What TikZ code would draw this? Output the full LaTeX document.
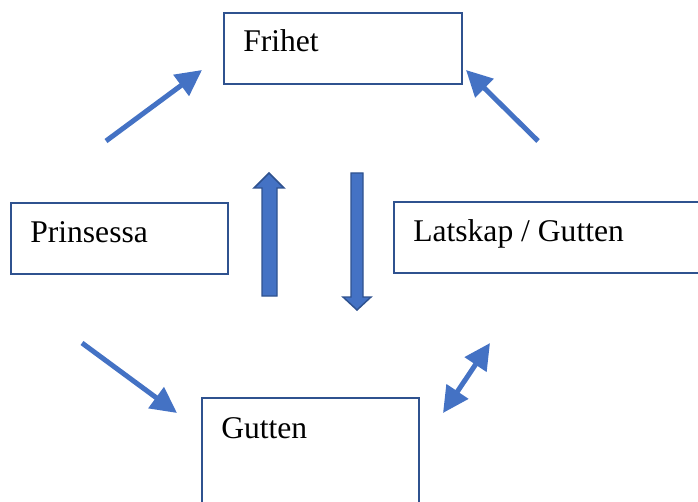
\documentclass[tikz,border=0pt]{standalone}
\usepackage{fontspec}
\setmainfont{Liberation Serif}
\usetikzlibrary{arrows.meta}
\definecolor{officeblue}{HTML}{4472C4}
\definecolor{boxline}{HTML}{2F528F}
\begin{document}
\begin{tikzpicture}[x=0.75pt,y=-0.75pt,
  box/.style={draw=boxline, line width=1.3pt, fill=white, anchor=north west, inner sep=0pt},
  boxtext/.style={anchor=base west, inner sep=0pt, font=\fontsize{23.7}{28}\selectfont},
  flow/.style={draw=officeblue, line width=3.75pt, -{Triangle[length=19.5pt,width=19pt]}},
  twoway/.style={draw=officeblue, line width=3.75pt, {Triangle[length=19.5pt,width=19pt]}-{Triangle[length=19.5pt,width=19pt]}},
  blockarrow/.style={fill=officeblue, draw=boxline, line width=1.1pt, line join=miter}
]
\useasboundingbox (0,0) rectangle (698,502);

% boxes
\node[box, minimum width=178.5pt, minimum height=53.25pt] (frihet) at (223,12) {};
\node[box, minimum width=162.75pt, minimum height=53.25pt] (prinsessa) at (10,202) {};
\node[box, minimum width=245.25pt, minimum height=53.25pt] (latskap) at (393,201) {};
\node[box, minimum width=162.75pt, minimum height=99.75pt] (gutten) at (201,397) {};

% box texts
\node[boxtext] (tfrihet) at (243,52) {Frihet};
\node[boxtext] (tprinsessa) at (30,242) {Prinsessa};
\node[boxtext] (tlatskap) at (413,241) {Latskap / Gutten};
\node[boxtext] (tgutten) at (221,438) {Gutten};

% thin arrows
\coordinate (a1s) at (106,141);
\coordinate (a1e) at (202,70);
\coordinate (a2s) at (538,141);
\coordinate (a2e) at (466,70);
\coordinate (a3s) at (82,343);
\coordinate (a3e) at (177,413);
\coordinate (a4s) at (443,413);
\coordinate (a4e) at (490,343);
\draw[flow] (a1s) -- (a1e);
\draw[flow] (a2s) -- (a2e);
\draw[flow] (a3s) -- (a3e);
\draw[twoway] (a4s) -- (a4e);

% block arrows
\draw[blockarrow] (262,296) -- (262,188) -- (254,188) -- (269,173) -- (284,188)
  -- (277,188) -- (277,296) -- cycle;
\draw[blockarrow] (351,173) -- (363,173) -- (363,297) -- (371,297) -- (357,310)
  -- (343,297) -- (351,297) -- cycle;
\end{tikzpicture}
\end{document}
